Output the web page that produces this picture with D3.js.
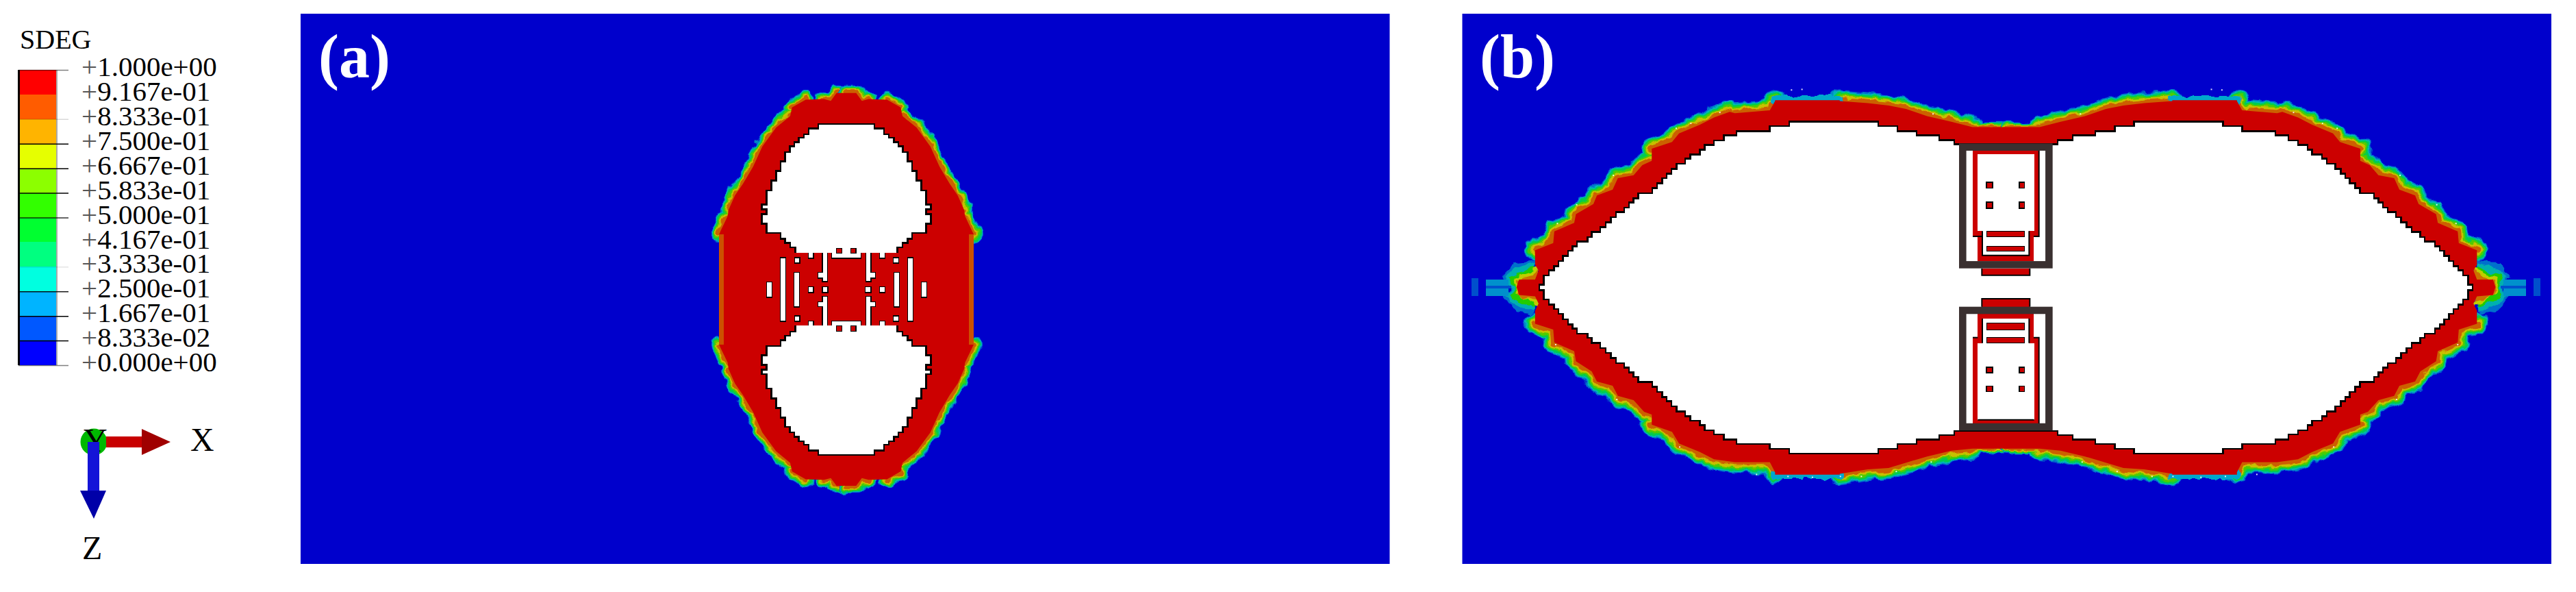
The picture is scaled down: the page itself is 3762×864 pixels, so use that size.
<!DOCTYPE html>
<html>
<head>
<meta charset="utf-8">
<script src="https://cdn.jsdelivr.net/npm/d3@7"></script>
<style>
  body { margin: 0; background: #fff; }
  text { font-family: "Liberation Serif", serif; }
</style>
</head>
<body>
<svg id="plotCanvas" width="3762" height="864">
  <defs>
    <filter id="rough" filterUnits="userSpaceOnUse" x="0" y="0" width="3762" height="864">
      <feTurbulence type="fractalNoise" baseFrequency="0.07" numOctaves="2" seed="4" result="n"/>
      <feDisplacementMap in="SourceGraphic" in2="n" scale="11" xChannelSelector="R" yChannelSelector="G"/>
    </filter>
  </defs>
</svg>
<script>
// legend
var legendLevels = [1, 0.9167, 0.8333, 0.75, 0.6667, 0.5833, 0.5, 0.4167, 0.3333, 0.25, 0.1667, 0.0833, 0]
var legendLabels = ["1.000e+00","9.167e-01","8.333e-01","7.500e-01","6.667e-01","5.833e-01","5.000e-01","4.167e-01","3.333e-01","2.500e-01","1.667e-01","8.333e-02","0.000e+00"]
var legendColors = ["#ff0000","#ff5c00","#ffb400","#e6ff00","#8cff00","#32ff00","#00ff30","#00ff80","#00ffe0","#00b4ff","#0058ff","#0000ff"]
var legendTickInk = [0.5,0,0.15,1,1,1,0.8,0,0.1,0.9,1,1,0.5]

// panel (a): one quadrant of the damage zone, mesh units
var edgesA = [
  ["none",[[150,766],[150,575]]],
  ["full",[[150,575],[188,512]]],
  ["none",[[188,512],[192,490]]],
  ["full",[[192,490],[220,440],[255,400],[300,340],[340,270],[400,205],[462,165]]],
  ["none",[[462,165],[470,135]]],
  ["full",[[470,135],[530,108]]],
  ["none",[[530,108],[610,106]]],
  ["full",[[610,106],[640,112],[665,85],[708,85]]]
]
var holeA = [[484,640],[484,620],[462,620],[462,605],[440,605],[440,590],[420,590],[420,570],[358,570],[358,538],[338,538],[338,505],[358,505],[358,488],[338,488],[338,472],[358,472],[358,423],[380,423],[380,388],[400,388],[400,355],[420,355],[420,322],[440,322],[440,290],[460,290],[460,270],[480,270],[480,255],[500,255],[500,240],[522,240],[522,228],[543,228],[543,208],[585,208],[585,192],[708,192]]
var slotsSideA = [[60,247,80,310],[120,140,140,415],[183,140,202,160],[183,395,202,415],[180,205,200,352],[243,268,262,288],[305,268,325,288],[305,118,323,240],[285,205,305,225],[305,310,323,437],[285,333,305,350],[243,118,262,138],[243,418,262,437]]
var slotsMidA = [[345,118,470,138],[345,418,470,437]]
var islandsA = [[365,97,388,118],[428,97,450,118],[365,437,388,460],[428,437,450,460]]

// panel (b): left half of the damage zone, mesh units
var edgesB = [
  ["thin",[[1626,203],[1530,203]]],
  ["full",[[1530,203],[1470,185],[1400,165],[1340,140],[1290,128],[1230,120],[1150,113]]],
  ["cool",[[1150,110],[965,110]]],
  ["full",[[965,113],[950,145],[850,155]]],
  ["full",[[835,150],[790,170],[750,195],[690,225],[670,255],[612,278]]],
  ["none",[[612,278],[612,320]]],
  ["full",[[612,320],[585,335],[560,370],[515,380],[500,420],[455,440],[445,470],[395,505],[390,535],[333,565],[330,605],[278,630]]],
  ["none",[[278,630],[278,680]]],
  ["none",[[278,680],[288,700],[278,732],[232,732],[225,757],[232,785],[278,790],[288,815],[278,840]]],
  ["none",[[278,840],[278,885]]],
  ["full",[[278,885],[330,905],[333,950],[390,980],[395,1015],[440,1050],[455,1085],[500,1100],[515,1135],[560,1150],[590,1190],[612,1200]]],
  ["none",[[612,1200],[612,1235]]],
  ["full",[[612,1235],[670,1260],[690,1300],[750,1330],[790,1355],[850,1365],[950,1365],[965,1400]]],
  ["cool",[[965,1408],[1150,1408]]],
  ["full",[[1150,1405],[1230,1390],[1290,1385],[1400,1345],[1470,1325],[1530,1318]]],
  ["thin",[[1530,1318],[1626,1318]]]
]
var holeB = [[290,759],[290,750],[303,750],[303,718],[318,718],[318,700],[332,700],[332,685],[345,685],[345,668],[358,668],[358,650],[372,650],[372,632],[385,632],[385,617],[398,617],[398,600],[428,600],[428,585],[440,585],[440,567],[465,567],[465,550],[480,550],[480,533],[495,533],[495,515],[510,515],[510,498],[533,498],[533,482],[547,482],[547,465],[560,465],[560,450],[573,450],[573,432],[613,432],[613,415],[627,415],[627,398],[642,398],[642,380],[655,380],[655,365],[668,365],[668,348],[683,348],[683,330],[708,330],[708,313],[722,313],[722,298],[750,298],[750,282],[763,282],[763,265],[790,265],[790,250],[818,250],[818,232],[855,232],[855,217],[950,217],[950,200],[1005,200],[1005,184],[1260,184],[1260,200],[1315,200],[1315,217],[1370,217],[1370,232],[1435,232],[1435,248],[1478,248],[1478,262],[1626,262]]
// damage lobes round the crack tip, tip units, outermost first
var tipLobes = [
  ["#0070cc",[[365,120],[320,125],[270,130],[240,170],[225,190],[235,215],[260,235],[235,265],[230,280],[250,310],[285,345],[340,355],[365,345]]],
  ["#00b0b0",[[365,130],[310,145],[255,170],[235,195],[250,225],[262,240],[238,270],[255,300],[315,335],[365,340]]],
  ["#20cc00",[[365,145],[320,170],[260,185],[250,200],[265,225],[275,240],[255,270],[270,290],[330,315],[365,325]]],
  ["#c0cc00",[[380,140],[340,175],[275,195],[280,265],[340,300],[380,320]]],
  ["#cc7000",[[380,150],[350,190],[285,205],[290,275],[345,290],[380,300]]]
]
var tipFaintB = [[88,197,118,275]]
var tipCoolB = [[150,205,250,275]]
var tipSlitB = [[150,232,262,242]]
// white flecks in the halo
var flecksB = [[680,205],[722,188],[805,150],[1010,72],[1040,70],[1415,155],[500,368],[395,470],[340,535],[335,955],[510,1145],[690,1310],[1000,1412],[1070,1415],[1210,1412],[1310,1395],[1470,1318],[1410,1362],[910,1405],[1150,1412]]
// two frames and what sits in them
var framesB = [[183,88,593,635],[183,803,593,1345]]
var redBlocksB = [[243,118,533,495],[265,495,510,602],[283,635,493,665],[243,938,533,1315],[265,832,510,938],[283,768,493,803]]
var voidsB = [[265,135,512,472],[285,472,490,578],[265,962,512,1298],[285,855,490,962]]
var barsB = [[303,472,470,495],[303,537,470,560],[303,873,470,903],[303,938,470,962]]
var dotsB = [[303,258,330,283],[447,258,470,283],[303,345,330,372],[447,345,470,372],[303,1068,330,1092],[447,1068,470,1092],[303,1150,330,1175],[447,1150,470,1175]]
var inkLinesB = [
  [[533,118],[533,495],[510,495]],[[243,495],[283,495]],[[285,472],[285,578],[490,578],[490,472]],[[283,635],[283,665],[493,665],[493,635]],
  [[533,1315],[533,938],[510,938]],[[243,938],[265,938]],[[265,1298],[512,1298]],[[285,962],[285,855]],[[490,962],[490,855]],[[283,803],[283,768],[493,768],[493,803]]
]

var svg = d3.select("#plotCanvas")
var line = d3.line()

var bg = "#0000cc", red = "#cc0000", dark = "#3a3030"
var haloInks = ["#0070cc","#00b8b8","#00cc50","#50cc00","#c8c000","#cc6000"]
var haloShare = [1,0.9,0.8,0.64,0.48,0.3]
var kindWidth = {full:1, thin:0.42}

// mesh units of the contour plots to page pixels
var xA = d3.scaleLinear().domain([0,1440]).range([1000,1480])
var yA = d3.scaleLinear().domain([0,1568]).range([100,760])
var xSlot = d3.scaleLinear().domain([0,780]).range([1100,1360])
var ySlot = d3.scaleLinear().domain([0,540]).range([330,510])
var xB = d3.scaleLinear().domain([0,1568]).range([2100,2900])
var yB = d3.scaleLinear().domain([0,1568]).range([100,760])
var xBox = d3.scaleLinear().domain([0,780]).range([2800,3060])
var yBox = d3.scaleLinear().domain([0,1500]).range([180,680])
var xTip = d3.scaleLinear().domain([0,540]).range([2120,2300])
var yTip = d3.scaleLinear().domain([0,450]).range([340,490])
// the same tip seen from the right hand side
var xTipRight = d3.scaleLinear().domain([0,540]).range([3739.2,3559.2])

function flipX(pts, sum){ return pts.map(function(p){ return [sum-p[0],p[1]] }) }
function flipY(pts, sum){ return pts.map(function(p){ return [p[0],sum-p[1]] }) }
function project(pts, x, y){ return pts.map(function(p){ return [x(p[0]),y(p[1])] }) }

function drawHalo(g, edges, x, y, base){
  haloInks.forEach(function(ink,i){
    edges.forEach(function(e){
      if(!kindWidth[e[0]]) return
      g.append("path").attr("d",line(project(e[1],x,y)))
       .attr("fill","none").attr("stroke",ink)
       .attr("stroke-width",base*kindWidth[e[0]]*haloShare[i])
       .attr("stroke-linejoin","round").attr("stroke-linecap","round")
    })
  })
  edges.forEach(function(e){
    if(e[0]!="cool") return
    g.append("path").attr("d",line(project(e[1],x,y)))
     .attr("fill","none").attr("stroke","#00a8cc").attr("stroke-width",base*0.4)
     .attr("stroke-linecap","round")
  })
}

function boxes(g, rows, x, y, fill, stroke, sw){
  g.selectAll(null).data(rows).enter().append("rect")
   .attr("x",function(d){return Math.min(x(d[0]),x(d[2]))}).attr("y",function(d){return y(d[1])})
   .attr("width",function(d){return Math.abs(x(d[2])-x(d[0]))}).attr("height",function(d){return y(d[3])-y(d[1])})
   .attr("fill",fill).attr("stroke",stroke||"none").attr("stroke-width",sw||0)
   .attr("shape-rendering","crispEdges")
}

function plotPanel(left, right){
  var g = svg.append("g")
  g.append("rect").attr("x",left).attr("y",20).attr("width",right-left).attr("height",803).attr("fill",bg)
  return g
}

// ---------- panel (a)
var gA = plotPanel(439, 2029.5)
var haloA = gA.append("g").attr("filter","url(#rough)")
var sumXA = 1416, sumYA = 1532
var quadsA = [
  edgesA,
  edgesA.map(function(e){return [e[0],flipX(e[1],sumXA)]}),
  edgesA.map(function(e){return [e[0],flipY(e[1],sumYA)]}),
  edgesA.map(function(e){return [e[0],flipY(flipX(e[1],sumXA),sumYA)]})
]
quadsA.forEach(function(q){ drawHalo(haloA,q,xA,yA,24) })

var ptsA = d3.merge(edgesA.map(function(e){return e[1]}))
var outlineA = ptsA.concat(flipX(ptsA,sumXA).reverse(), flipY(flipX(ptsA,sumXA),sumYA), flipY(ptsA,sumYA).reverse())
gA.append("path").attr("d",line(project(outlineA,xA,yA))+"Z").attr("fill",red)
// orange rims down both long sides
boxes(gA,[[150,575,172,957],[1244,575,1266,957]],xA,yA,"#cc5000")

var slotRows = slotsSideA.concat(slotsSideA.map(function(s){return [818-s[2],s[1],818-s[0],s[3]]}),slotsMidA)
boxes(gA,slotRows,xSlot,ySlot,"#fff","#000",3)
boxes(gA,slotRows,xSlot,ySlot,"#fff")

var holeFullA = holeA.concat(flipX(holeA,sumXA).reverse())
;[holeFullA, flipY(holeFullA,sumYA)].forEach(function(h){
  gA.append("path").attr("d",line(project(h,xA,yA))).attr("fill","#fff")
    .attr("stroke","#000").attr("stroke-width",2.5).attr("shape-rendering","crispEdges")
})
boxes(gA,islandsA,xSlot,ySlot,red,"#000",1.5)

// ---------- panel (b)
var gB = plotPanel(2135.5, 3726)
var sumXB = 3252, sumYB = 1519
var rightEdgesB = edgesB.map(function(e){return [e[0],flipX(e[1],sumXB)]})
var haloB = gB.append("g").attr("filter","url(#rough)")
drawHalo(haloB,edgesB,xB,yB,32)
drawHalo(haloB,rightEdgesB,xB,yB,32)

// streaks and lobes at both crack tips
;[xTip,xTipRight].forEach(function(x){
  boxes(gB,tipFaintB,x,yTip,"#0050cc")
  boxes(gB,tipCoolB,x,yTip,"#0090cc")
  boxes(gB,tipSlitB,x,yTip,"#0050cc")
  tipLobes.forEach(function(l){
    haloB.append("path").attr("d",line(project(l[1],x,yTip))+"Z").attr("fill",l[0])
  })
})

gB.selectAll(null).data(flecksB.concat(flipX(flecksB,sumXB))).enter().append("rect")
  .attr("x",function(d){return xB(d[0])}).attr("y",function(d){return yB(d[1])})
  .attr("width",2).attr("height",2).attr("fill","#fff").attr("fill-opacity",0.85)

var ptsB = d3.merge(edgesB.map(function(e){return e[1]}))
gB.append("path").attr("d",line(project(ptsB.concat(flipX(ptsB,sumXB).reverse()),xB,yB))+"Z").attr("fill",red)

// walk round: top-left, top-right, bottom-right, bottom-left
var holeFullB = holeB.concat(flipX(holeB,sumXB).reverse(),flipY(flipX(holeB,sumXB),sumYB),flipY(holeB,sumYB).reverse())
gB.append("path").attr("d",line(project(holeFullB,xB,yB))+"Z").attr("fill","#fff")
  .attr("stroke","#000").attr("stroke-width",2.5).attr("shape-rendering","crispEdges")

boxes(gB,redBlocksB,xBox,yBox,red)
boxes(gB,voidsB,xBox,yBox,"#fff")
boxes(gB,barsB,xBox,yBox,red,"#000",1)
boxes(gB,dotsB,xBox,yBox,red,"#000",1.5)
inkLinesB.forEach(function(l){
  gB.append("path").attr("d",line(project(l,xBox,yBox))).attr("fill","none").attr("stroke","#000").attr("stroke-width",2)
})
gB.selectAll(null).data(framesB).enter().append("rect")
  .attr("x",function(d){return xBox(d[0])+5.3}).attr("y",function(d){return yBox(d[1])+5.3})
  .attr("width",function(d){return xBox(d[2])-xBox(d[0])-10.6}).attr("height",function(d){return yBox(d[3])-yBox(d[1])-10.6})
  .attr("fill","none").attr("stroke",dark).attr("stroke-width",10.6)

// panel tags
svg.append("text").attr("x",465).attr("y",113).attr("font-size",90).attr("font-weight","bold").attr("fill","#fff").text("(a)")
svg.append("text").attr("x",2161).attr("y",113).attr("font-size",90).attr("font-weight","bold").attr("fill","#fff").text("(b)")

// ---------- legend
var yLegend = d3.scaleLinear().domain([0,1]).range([533,102])
var legendCells = d3.range(legendColors.length)
svg.selectAll(".cell").data(legendCells).enter().append("rect").attr("class","cell")
  .attr("x",28).attr("width",54)
  .attr("y",function(i){return yLegend(legendLevels[i])})
  .attr("height",function(i){return yLegend(legendLevels[i+1])-yLegend(legendLevels[i])})
  .attr("fill",function(i){return legendColors[i]})
  .attr("shape-rendering","crispEdges")
svg.append("rect").attr("x",26).attr("y",102).attr("width",3).attr("height",431).attr("fill","#000")
svg.append("rect").attr("x",82).attr("y",102).attr("width",2).attr("height",431).attr("fill","#aaa")

var legendAxis = d3.axisRight(yLegend).tickValues(legendLevels).tickSize(18).tickPadding(19)
  .tickFormat(function(d){return legendLabels[legendLevels.indexOf(d)]})
var axisG = svg.append("g").attr("transform","translate(82,0)").call(legendAxis)
axisG.select(".domain").remove()
axisG.selectAll(".tick line").attr("x1",-55).attr("stroke","#000").attr("stroke-width",1.5)
  .attr("stroke-opacity",function(d){return legendTickInk[legendLevels.indexOf(d)]})
axisG.selectAll(".tick text").attr("font-family","Liberation Serif").attr("font-size",41).attr("fill","#000").attr("dy","0.21em")
  .each(function(d){
    var t = d3.select(this), s = t.text()
    t.text(null)
    t.append("tspan").attr("fill","#555").text("+")
    t.append("tspan").text(s)
  })
svg.append("text").attr("x",29).attr("y",71).attr("font-size",40).text("SDEG")

// ---------- triad
svg.append("circle").attr("cx",137).attr("cy",645).attr("r",19.5).attr("fill","#00b800")
svg.append("text").attr("x",122).attr("y",659).attr("font-size",48).text("Y")
svg.append("rect").attr("x",155).attr("y",637).attr("width",54).attr("height",16).attr("fill","#c80000")
svg.append("path").attr("d",line([[207,626],[249,645],[207,664]])+"Z").attr("fill","#a00000")
svg.append("rect").attr("x",128).attr("y",645).attr("width",17).attr("height",72).attr("fill","#1414d8")
svg.append("path").attr("d",line([[117,716],[155,716],[137,757]])+"Z").attr("fill","#0000a8")
svg.append("text").attr("x",278).attr("y",658).attr("font-size",48).text("X")
svg.append("text").attr("x",120).attr("y",816).attr("font-size",48).text("Z")
</script>
</body>
</html>
